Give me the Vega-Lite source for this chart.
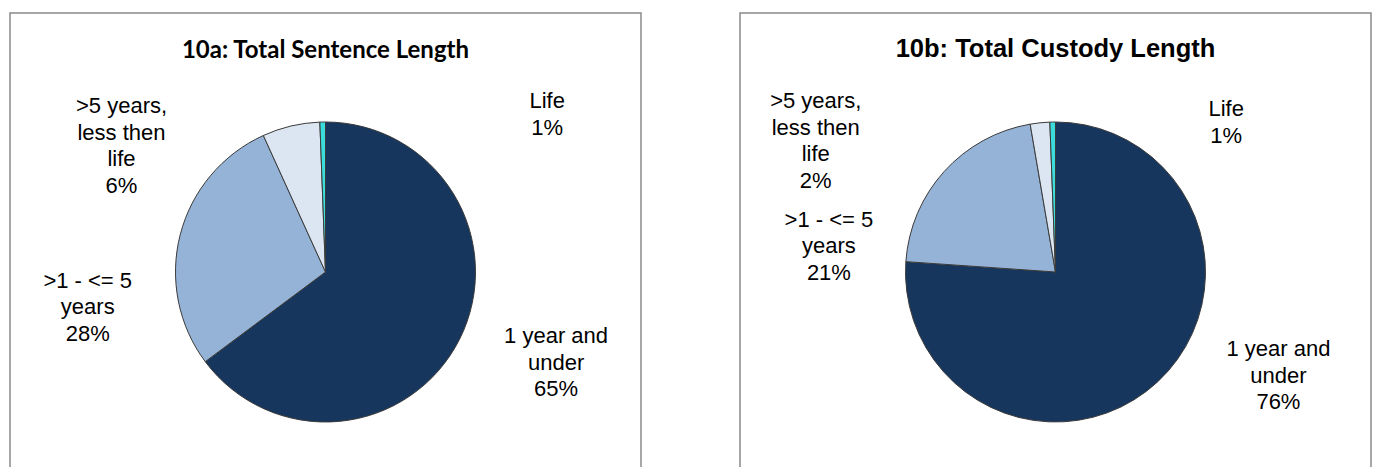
{
  "$schema": "https://vega.github.io/schema/vega-lite/v6.json",
  "background": "white",
  "padding": {"left": 9, "top": 12, "right": 0, "bottom": 0},
  "spacing": 97,
  "data": {
    "values": [
      {"chart": "10a", "cat": "1 year and under", "label": "1 year and\nunder\n65%", "value": 64.8, "ord": 1},
      {"chart": "10a", "cat": ">1 - <= 5 years", "label": ">1 - <= 5\nyears\n28%", "value": 28.4, "ord": 2},
      {"chart": "10a", "cat": ">5 years, less then life", "label": ">5 years,\nless then\nlife\n6%", "value": 6.2, "ord": 3},
      {"chart": "10a", "cat": "Life", "label": "Life\n1%", "value": 0.6, "ord": 4},
      {"chart": "10b", "cat": "1 year and under", "label": "1 year and\nunder\n76%", "value": 76.1, "ord": 1},
      {"chart": "10b", "cat": ">1 - <= 5 years", "label": ">1 - <= 5\nyears\n21%", "value": 21.2, "ord": 2},
      {"chart": "10b", "cat": ">5 years, less then life", "label": ">5 years,\nless then\nlife\n2%", "value": 2.1, "ord": 3},
      {"chart": "10b", "cat": "Life", "label": "Life\n1%", "value": 0.6, "ord": 4}
    ]
  },
  "hconcat": [
    {
      "width": 631,
      "height": 518,
      "view": {"stroke": "#8a8a8a", "strokeWidth": 1.5},
      "title": {"text": "10a: Total Sentence Length", "frame": "group", "font": "Lato", "fontWeight": "bold", "fontSize": 24, "color": "#000000", "anchor": "middle", "baseline": "alphabetic", "offset": -69},
      "transform": [{"filter": "datum.chart === '10a'"}],
      "encoding": {
        "theta": {"field": "value", "type": "quantitative", "stack": true},
        "order": {"field": "ord", "type": "quantitative"}
      },
      "layer": [
        {
          "mark": {"type": "arc", "outerRadius": 150, "stroke": "#3a3a3a", "strokeWidth": 1},
          "encoding": {
            "color": {"field": "cat", "type": "nominal", "legend": null,
              "scale": {"domain": ["1 year and under", ">1 - <= 5 years", ">5 years, less then life", "Life"],
                        "range": ["#17365D", "#95B3D7", "#DCE6F2", "#3ADCDC"]}}
          }
        },
        {
          "mark": {"type": "text", "clip": true, "radius": 230, "dx": 25, "dy": -32, "align": "center", "baseline": "alphabetic", "lineBreak": "\n", "lineHeight": 26.5, "font": "Liberation Sans", "fontSize": 22, "color": "#000000"},
          "encoding": {"detail": {"field": "cat"}, "text": {"condition": {"test": "datum.ord === 1", "field": "label", "type": "nominal"}, "value": ""}}
        },
        {
          "mark": {"type": "text", "clip": true, "radius": 230, "dx": -15, "dy": 73, "align": "center", "baseline": "alphabetic", "lineBreak": "\n", "lineHeight": 26.5, "font": "Liberation Sans", "fontSize": 22, "color": "#000000"},
          "encoding": {"detail": {"field": "cat"}, "text": {"condition": {"test": "datum.ord === 2", "field": "label", "type": "nominal"}, "value": ""}}
        },
        {
          "mark": {"type": "text", "clip": true, "radius": 230, "dx": -151, "dy": 65, "align": "center", "baseline": "alphabetic", "lineBreak": "\n", "lineHeight": 26.5, "font": "Liberation Sans", "fontSize": 22, "color": "#000000"},
          "encoding": {"detail": {"field": "cat"}, "text": {"condition": {"test": "datum.ord === 3", "field": "label", "type": "nominal"}, "value": ""}}
        },
        {
          "mark": {"type": "text", "clip": true, "radius": 230, "dx": 226, "dy": 66, "align": "center", "baseline": "alphabetic", "lineBreak": "\n", "lineHeight": 26.5, "font": "Liberation Sans", "fontSize": 22, "color": "#000000"},
          "encoding": {"detail": {"field": "cat"}, "text": {"condition": {"test": "datum.ord === 4", "field": "label", "type": "nominal"}, "value": ""}}
        }
      ]
    },
    {
      "width": 631,
      "height": 518,
      "view": {"stroke": "#8a8a8a", "strokeWidth": 1.5},
      "title": {"text": "10b: Total Custody Length", "frame": "group", "font": "Liberation Sans", "fontWeight": "bold", "fontSize": 25.5, "color": "#000000", "anchor": "middle", "baseline": "alphabetic", "offset": -69},
      "transform": [{"filter": "datum.chart === '10b'"}],
      "encoding": {
        "theta": {"field": "value", "type": "quantitative", "stack": true},
        "order": {"field": "ord", "type": "quantitative"}
      },
      "layer": [
        {
          "mark": {"type": "arc", "outerRadius": 150, "stroke": "#3a3a3a", "strokeWidth": 1},
          "encoding": {
            "color": {"field": "cat", "type": "nominal", "legend": null,
              "scale": {"domain": ["1 year and under", ">1 - <= 5 years", ">5 years, less then life", "Life"],
                        "range": ["#17365D", "#95B3D7", "#DCE6F2", "#3ADCDC"]}}
          }
        },
        {
          "mark": {"type": "text", "clip": true, "radius": 230, "dx": 66, "dy": -84, "align": "center", "baseline": "alphabetic", "lineBreak": "\n", "lineHeight": 26.5, "font": "Liberation Sans", "fontSize": 22, "color": "#000000"},
          "encoding": {"detail": {"field": "cat"}, "text": {"condition": {"test": "datum.ord === 1", "field": "label", "type": "nominal"}, "value": ""}}
        },
        {
          "mark": {"type": "text", "clip": true, "radius": 230, "dx": -56, "dy": 109, "align": "center", "baseline": "alphabetic", "lineBreak": "\n", "lineHeight": 26.5, "font": "Liberation Sans", "fontSize": 22, "color": "#000000"},
          "encoding": {"detail": {"field": "cat"}, "text": {"condition": {"test": "datum.ord === 2", "field": "label", "type": "nominal"}, "value": ""}}
        },
        {
          "mark": {"type": "text", "clip": true, "radius": 230, "dx": -216, "dy": 65, "align": "center", "baseline": "alphabetic", "lineBreak": "\n", "lineHeight": 26.5, "font": "Liberation Sans", "fontSize": 22, "color": "#000000"},
          "encoding": {"detail": {"field": "cat"}, "text": {"condition": {"test": "datum.ord === 3", "field": "label", "type": "nominal"}, "value": ""}}
        },
        {
          "mark": {"type": "text", "clip": true, "radius": 230, "dx": 175, "dy": 74, "align": "center", "baseline": "alphabetic", "lineBreak": "\n", "lineHeight": 26.5, "font": "Liberation Sans", "fontSize": 22, "color": "#000000"},
          "encoding": {"detail": {"field": "cat"}, "text": {"condition": {"test": "datum.ord === 4", "field": "label", "type": "nominal"}, "value": ""}}
        }
      ]
    }
  ],
  "config": {
    "view": {"stroke": "#8a8a8a", "strokeWidth": 1.5}
  }
}
